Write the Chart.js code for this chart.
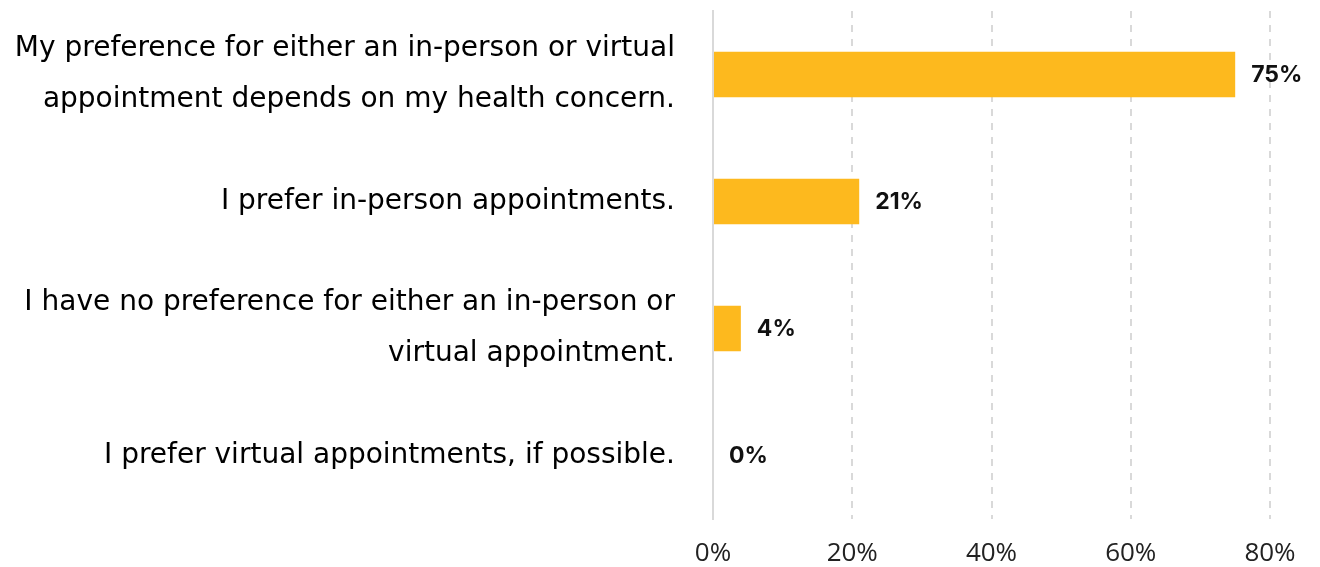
<!DOCTYPE html>
<html>
<head>
<meta charset="utf-8">
<script src="https://cdn.jsdelivr.net/npm/chart.js@4"></script>
<style>
  html, body { margin: 0; padding: 0; background: #fff; }
  #wrap { width: 1320px; height: 567px; position: relative; }
</style>
</head>
<body>
<div id="wrap"><canvas id="c"></canvas></div>
<script>
const categories = [
  ["My preference for either an in-person or virtual", "appointment depends on my health concern."],
  ["I prefer in-person appointments."],
  ["I have no preference for either an in-person or", "virtual appointment."],
  ["I prefer virtual appointments, if possible."]
];
const values = [75, 21, 4, 0];
const xTicks = [0, 20, 40, 60, 80];

const valueLabels = {
  id: 'valueLabels',
  afterDatasetsDraw(chart) {
    const ctx = chart.ctx;
    const meta = chart.getDatasetMeta(0);
    ctx.save();
    ctx.font = 'bold 23px Inter, Lato, sans-serif';
    ctx.fillStyle = '#111';
    ctx.textAlign = 'left';
    ctx.textBaseline = 'middle';
    meta.data.forEach((bar, i) => {
      ctx.fillText(values[i] + '%', bar.x + 16, bar.y + 1);
    });
    ctx.restore();
  }
};

new Chart(document.getElementById('c'), {
  type: 'bar',
  data: {
    labels: categories,
    datasets: [{
      data: values,
      backgroundColor: '#FDB91E',
      borderWidth: 0,
      barPercentage: 0.6,
      categoryPercentage: 0.6
    }]
  },
  options: {
    indexAxis: 'y',
    responsive: true,
    maintainAspectRatio: false,
    animation: false,
    layout: { padding: { top: 11, right: 50, bottom: 0, left: 0 } },
    plugins: { legend: { display: false }, tooltip: { enabled: false } },
    scales: {
      x: {
        min: 0, max: 80,
        afterBuildTicks(scale) { scale.ticks = xTicks.map(v => ({ value: v })); },
        afterFit(scale) { scale.height = 48; },
        ticks: {
          callback: v => v + '%',
          color: '#222',
          font: { family: '"Open Sans", sans-serif', size: 26 },
          padding: 19
        },
        grid: {
          color: ctx => ctx.tick && ctx.tick.value === 0 ? 'rgba(0,0,0,0)' : '#d9d9d9',
          lineWidth: 2,
          drawTicks: false
        },
        border: { display: false, dash: [7, 7] }
      },
      y: {
        afterFit(scale) { scale.width = 713; scale.paddingTop = 0; scale.paddingBottom = 0; },
        ticks: {
          color: '#000',
          font: { family: '"DejaVu Sans", sans-serif', size: 28, lineHeight: 1.82 },
          padding: 38
        },
        grid: { display: false, drawTicks: false },
        border: { display: true, color: '#d9d9d9', width: 2 }
      }
    }
  },
  plugins: [valueLabels]
});
</script>
</body>
</html>
